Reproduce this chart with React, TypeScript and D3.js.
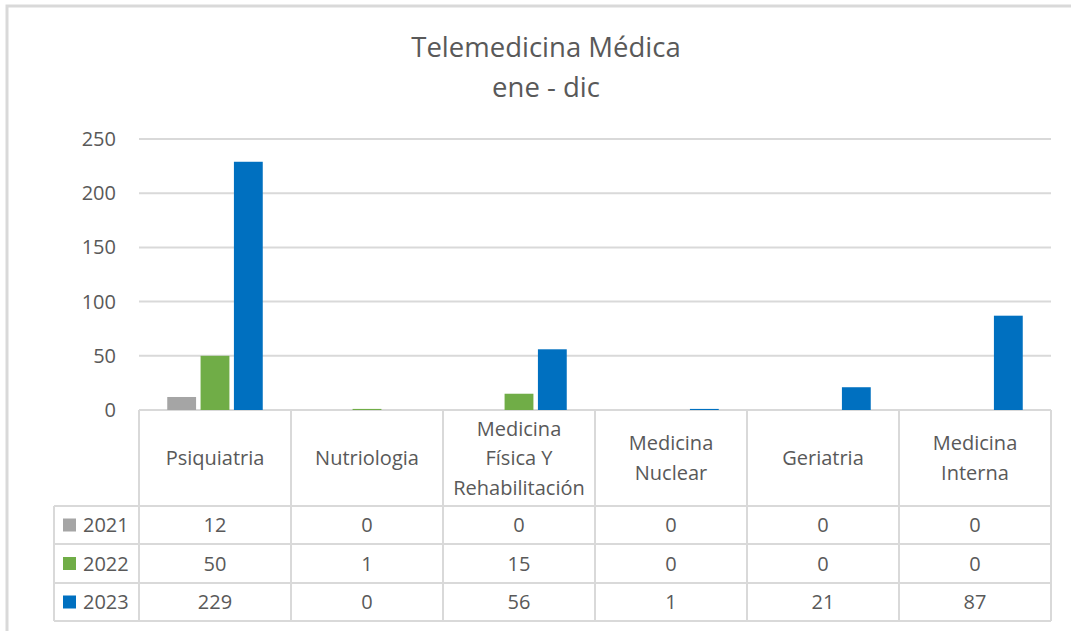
import React from "react";
import * as d3 from "d3";

const titleLines = ["Telemedicina Médica", "ene - dic"];
const categories = [
  "Psiquiatria",
  "Nutriologia",
  "Medicina Física Y Rehabilitación",
  "Medicina Nuclear",
  "Geriatria",
  "Medicina Interna",
];
const categoryLines = [
  ["Psiquiatria"],
  ["Nutriologia"],
  ["Medicina", "Física Y", "Rehabilitación"],
  ["Medicina", "Nuclear"],
  ["Geriatria"],
  ["Medicina", "Interna"],
];
const years = ["2021", "2022", "2023"];
const values2021 = [12, 0, 0, 0, 0, 0];
const values2022 = [50, 1, 15, 0, 0, 0];
const values2023 = [229, 0, 56, 1, 21, 87];
const yTicks = [0, 50, 100, 150, 200, 250];
const colors = ["#a5a5a5", "#70ad47", "#0070c0"];

const seriesValues = [values2021, values2022, values2023];

const W = 1071;
const H = 631;
const plotLeft = 139;
const plotRight = 1051;
const plotTop = 139;
const zeroY = 410;
const axisLineY = 410;
const legendLeft = 54;
const headerBottom = 506;
const rowBounds = [506, 544, 583, 621];
const textColor = "#595959";
const gridColor = "#d9d9d9";
const font = "'Open Sans', sans-serif";

export default function App() {
  const x0 = d3.scaleBand<string>().domain(categories).range([plotLeft, plotRight]).padding(0);
  const bw = x0.bandwidth();
  const x1 = d3
    .scaleBand<string>()
    .domain(years)
    .range([26, bw - 26])
    .paddingInner(0.135)
    .paddingOuter(0.0675);
  const y = d3.scaleLinear().domain([0, 250]).range([zeroY, plotTop]);

  const colEdges = categories.map((c) => x0(c) as number).concat([plotRight]);

  return (
    <div style={{ position: "fixed", left: 0, top: 0 }}>
      <svg width={W} height={H} style={{ display: "block", background: "#fff" }}>
        {/* outer chart border */}
        <rect x={7} y={6} width={W + 20} height={H + 20} fill="#fff" stroke="#d9d9d9" strokeWidth={3} />

        {/* title */}
        {titleLines.map((t, i) => (
          <text
            key={t}
            x={546}
            y={57 + i * 40}
            textAnchor="middle"
            fontFamily={font}
            fontSize={27.5}
            fill={textColor}
          >
            {t}
          </text>
        ))}

        {/* gridlines */}
        {yTicks.map((t) =>
          t === 0 ? null : (
            <line key={t} x1={plotLeft} x2={plotRight} y1={y(t)} y2={y(t)} stroke={gridColor} strokeWidth={2} />
          )
        )}
        {/* y labels */}
        {yTicks.map((t) => (
          <text
            key={"l" + t}
            x={116}
            y={y(t)}
            dy="0.35em"
            textAnchor="end"
            fontFamily={font}
            fontSize={20}
            fill={textColor}
          >
            {t}
          </text>
        ))}

        {/* table lines */}
        <g stroke={gridColor} strokeWidth={2} fill="none">
          <line x1={plotLeft} x2={plotRight} y1={axisLineY} y2={axisLineY} />
          {rowBounds.map((rb) => (
            <line key={rb} x1={legendLeft} x2={plotRight} y1={rb} y2={rb} />
          ))}
          {colEdges.map((cx) => (
            <line key={cx} x1={cx} x2={cx} y1={axisLineY} y2={rowBounds[rowBounds.length - 1]} />
          ))}
          <line x1={legendLeft} x2={legendLeft} y1={headerBottom} y2={rowBounds[rowBounds.length - 1]} />
        </g>

        {/* bars */}
        {categories.map((c, ci) => (
          <g key={c} transform={`translate(${x0(c)},0)`}>
            {years.map((yr, si) => {
              const v = seriesValues[si][ci];
              if (v <= 0) return null;
              return (
                <rect
                  key={yr}
                  x={x1(yr)}
                  y={y(v)}
                  width={x1.bandwidth()}
                  height={zeroY - y(v)}
                  fill={colors[si]}
                />
              );
            })}
          </g>
        ))}

        {/* header labels */}
        {categories.map((c, ci) => {
          const lines = categoryLines[ci];
          const cx = (x0(c) as number) + bw / 2;
          const cy = (axisLineY + headerBottom) / 2;
          const lh = 29.5;
          const start = cy - ((lines.length - 1) * lh) / 2;
          return (
            <text key={c} textAnchor="middle" fontFamily={font} fontSize={20} fill={textColor}>
              {lines.map((ln, li) => (
                <tspan key={li} x={cx} y={start + li * lh} dy="0.35em">
                  {ln}
                </tspan>
              ))}
            </text>
          );
        })}

        {/* data rows */}
        {years.map((yr, si) => {
          const cy = (rowBounds[si] + rowBounds[si + 1]) / 2;
          return (
            <g key={yr}>
              <rect x={63} y={cy - 6.5} width={13} height={13} fill={colors[si]} />
              <text x={83} y={cy} dy="0.35em" fontFamily={font} fontSize={20} fill={textColor}>
                {yr}
              </text>
              {categories.map((c, ci) => (
                <text
                  key={c}
                  x={(x0(c) as number) + bw / 2}
                  y={cy}
                  dy="0.35em"
                  textAnchor="middle"
                  fontFamily={font}
                  fontSize={20}
                  fill={textColor}
                >
                  {seriesValues[si][ci]}
                </text>
              ))}
            </g>
          );
        })}
      </svg>
    </div>
  );
}
